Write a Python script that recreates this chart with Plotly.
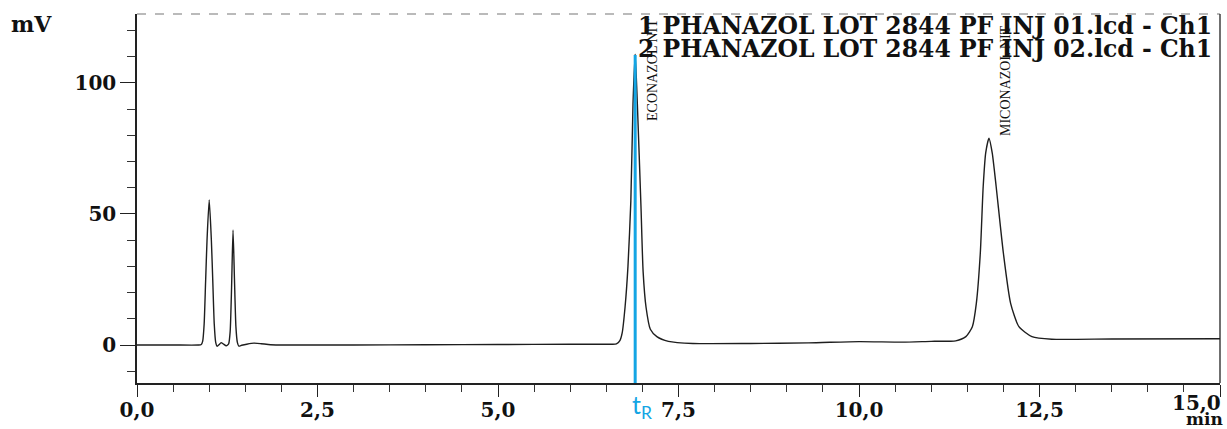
import plotly.graph_objects as go

# ---------------- data ----------------
# early region: two small peaks near 1.0 and 1.33 min
t_early = [0.0, 0.5, 0.85, 0.89, 0.91, 0.93, 0.95, 0.97, 1.0, 1.03, 1.05, 1.07, 1.09,
           1.11, 1.14, 1.165, 1.20, 1.235, 1.255, 1.27, 1.29, 1.31, 1.33, 1.35, 1.37,
           1.39, 1.41, 1.45, 1.52, 1.62, 1.72, 1.85, 2.3]
mv_early = [0.0, 0.0, 0.0, 0.2, 1.5, 8.0, 24.0, 40.0, 55.3, 40.0, 24.0, 8.0, 1.0,
            -0.5, 0.2, 0.9, 0.3, -0.3, 0.0, 0.5, 5.0, 22.0, 43.9, 25.0, 7.0,
            1.0, -0.4, -0.1, 0.3, 0.7, 0.5, 0.1, 0.0]

# baseline before econazole
t_base1 = [3.0, 4.0, 5.0, 6.0, 6.55]
mv_base1 = [0.0, 0.1, 0.2, 0.3, 0.3]

# econazole nitrate peak
t_econ = [6.64, 6.69, 6.72, 6.76, 6.80, 6.84, 6.87, 6.9, 6.93, 6.98, 7.01, 7.05,
          7.11, 7.20, 7.36, 7.70]
mv_econ = [0.4, 1.8, 4.6, 14.5, 30.0, 55.0, 92.0, 111.0, 92.0, 53.0, 28.0, 14.5,
           6.0, 3.2, 1.4, 0.6]

# baseline between peaks
t_base2 = [8.5, 9.3, 10.0, 10.6, 11.0]
mv_base2 = [0.6, 0.8, 1.3, 1.1, 1.4]

# miconazole nitrate peak and tail
t_mic = [11.34, 11.48, 11.57, 11.625, 11.68, 11.72, 11.755, 11.8, 11.845, 11.90,
         12.0, 12.10, 12.215, 12.395, 12.67, 13.5, 15.0]
mv_mic = [1.6, 3.2, 7.0, 15.9, 35.0, 60.4, 73.3, 78.9, 73.3, 60.4,
          35.0, 15.9, 7.0, 3.2, 2.2, 2.3, 2.4]

t_R = 6.9            # retention time of econazole marked in blue
t_R_height = 110.7

x_tickvals = [0, 2.5, 5, 7.5, 10, 12.5, 15]
x_ticktext = ["0,0", "2,5", "5,0", "7,5", "10,0", "12,5", ""]
y_tickvals = [0, 50, 100]
y_ticktext = ["0", "50", "100"]

legend_lines = ["1 PHANAZOL LOT 2844 PF INJ 01.lcd - Ch1",
                "2 PHANAZOL LOT 2844 PF INJ 02.lcd - Ch1"]
peak_labels = ["ECONAZOL NIT", "MICONAZOL NIT"]

# ---------------- layout geometry ----------------
W, H = 1227, 429
L, R, T, B = 137, 7, 14, 46
PW, PH = W - L - R, H - T - B


def px_x(px):
    return (px - L) / PW


def px_y(py):
    return (H - B - py) / PH


time = t_early + t_base1 + t_econ + t_base2 + t_mic
signal = mv_early + mv_base1 + mv_econ + mv_base2 + mv_mic

Y_MIN, Y_MAX = -14.5, 126.3

fig = go.Figure()
fig.add_trace(go.Scatter(
    x=time, y=signal, mode="lines",
    line=dict(color="#1e1e1e", width=1.4, shape="spline", smoothing=0.6),
    hoverinfo="skip", showlegend=False))

fig.add_trace(go.Scatter(
    x=[t_R, t_R], y=[Y_MIN - 0.8, t_R_height], mode="lines",
    line=dict(color="#14a5e4", width=3), cliponaxis=False,
    hoverinfo="skip", showlegend=False))

serif_bold = dict(family="DejaVu Serif", size=20, color="#111", weight="bold")

fig.update_layout(
    width=W, height=H,
    margin=dict(l=L, r=R, t=T, b=B, autoexpand=False),
    paper_bgcolor="white", plot_bgcolor="white",
    showlegend=False,
    xaxis=dict(
        range=[0, 15], showgrid=False, zeroline=False, automargin=False,
        showline=True, linecolor="#222", linewidth=1.5,
        ticks="outside", ticklen=12, tickwidth=1.3, tickcolor="#222",
        tickvals=x_tickvals, ticktext=x_ticktext, ticklabelstandoff=-4,
        tickfont=serif_bold,
        minor=dict(dtick=0.5, ticks="outside", ticklen=7, tickwidth=1.1, tickcolor="#333"),
    ),
    yaxis=dict(
        range=[Y_MIN, Y_MAX], showgrid=False, zeroline=False, automargin=False,
        showline=True, linecolor="#222", linewidth=1.5,
        ticks="outside", ticklen=15, tickwidth=1.3, tickcolor="#222",
        tickvals=y_tickvals, ticktext=y_ticktext,
        tickfont=serif_bold,
        minor=dict(dtick=10, ticks="outside", ticklen=8, tickwidth=1.1, tickcolor="#333"),
    ),
)

# frame: dashed top border and solid right border
fig.add_shape(type="line", xref="paper", yref="paper", x0=0, x1=1, y0=1, y1=1,
              line=dict(color="#777", width=1.2, dash="dash"))
fig.add_shape(type="line", xref="paper", yref="paper", x0=1, x1=1, y0=0, y1=1,
              line=dict(color="#222", width=1.3))

anns = []
# legend lines
for txt, cy in zip(legend_lines, [26, 49]):
    anns.append(dict(text=txt, xref="paper", yref="paper", x=px_x(1214), y=px_y(cy),
                     xanchor="right", yanchor="middle", showarrow=False,
                     font=dict(family="DejaVu Serif", size=23.5, color="#111", weight="bold")))
# peak labels (rotated)
for txt, cx, cy in zip(peak_labels, [652, 1005], [70, 81]):
    anns.append(dict(text=txt, xref="paper", yref="paper", x=px_x(cx), y=px_y(cy),
                     xanchor="center", yanchor="middle", showarrow=False, textangle=-90,
                     font=dict(family="Liberation Serif", size=14, color="#111")))
# axis units
anns.append(dict(text="mV", xref="paper", yref="paper", x=px_x(9), y=px_y(24),
                 xanchor="left", yanchor="middle", showarrow=False,
                 font=dict(family="DejaVu Serif", size=22, color="#111", weight="bold")))
anns.append(dict(text="15,0", xref="paper", yref="paper", x=px_x(1223), y=px_y(403),
                 xanchor="right", yanchor="middle", showarrow=False, font=serif_bold))
anns.append(dict(text="min", xref="paper", yref="paper", x=px_x(1225), y=px_y(419),
                 xanchor="right", yanchor="middle", showarrow=False,
                 font=dict(family="DejaVu Serif", size=17, color="#111", weight="bold")))
# t_R label
anns.append(dict(text="t<sub>R</sub>", xref="x", yref="paper", x=t_R, y=px_y(406),
                 xanchor="center", yanchor="middle", xshift=7, showarrow=False,
                 font=dict(family="Lato", size=25, color="#14a5e4")))

fig.update_layout(annotations=anns)

fig.write_html("out.html")
